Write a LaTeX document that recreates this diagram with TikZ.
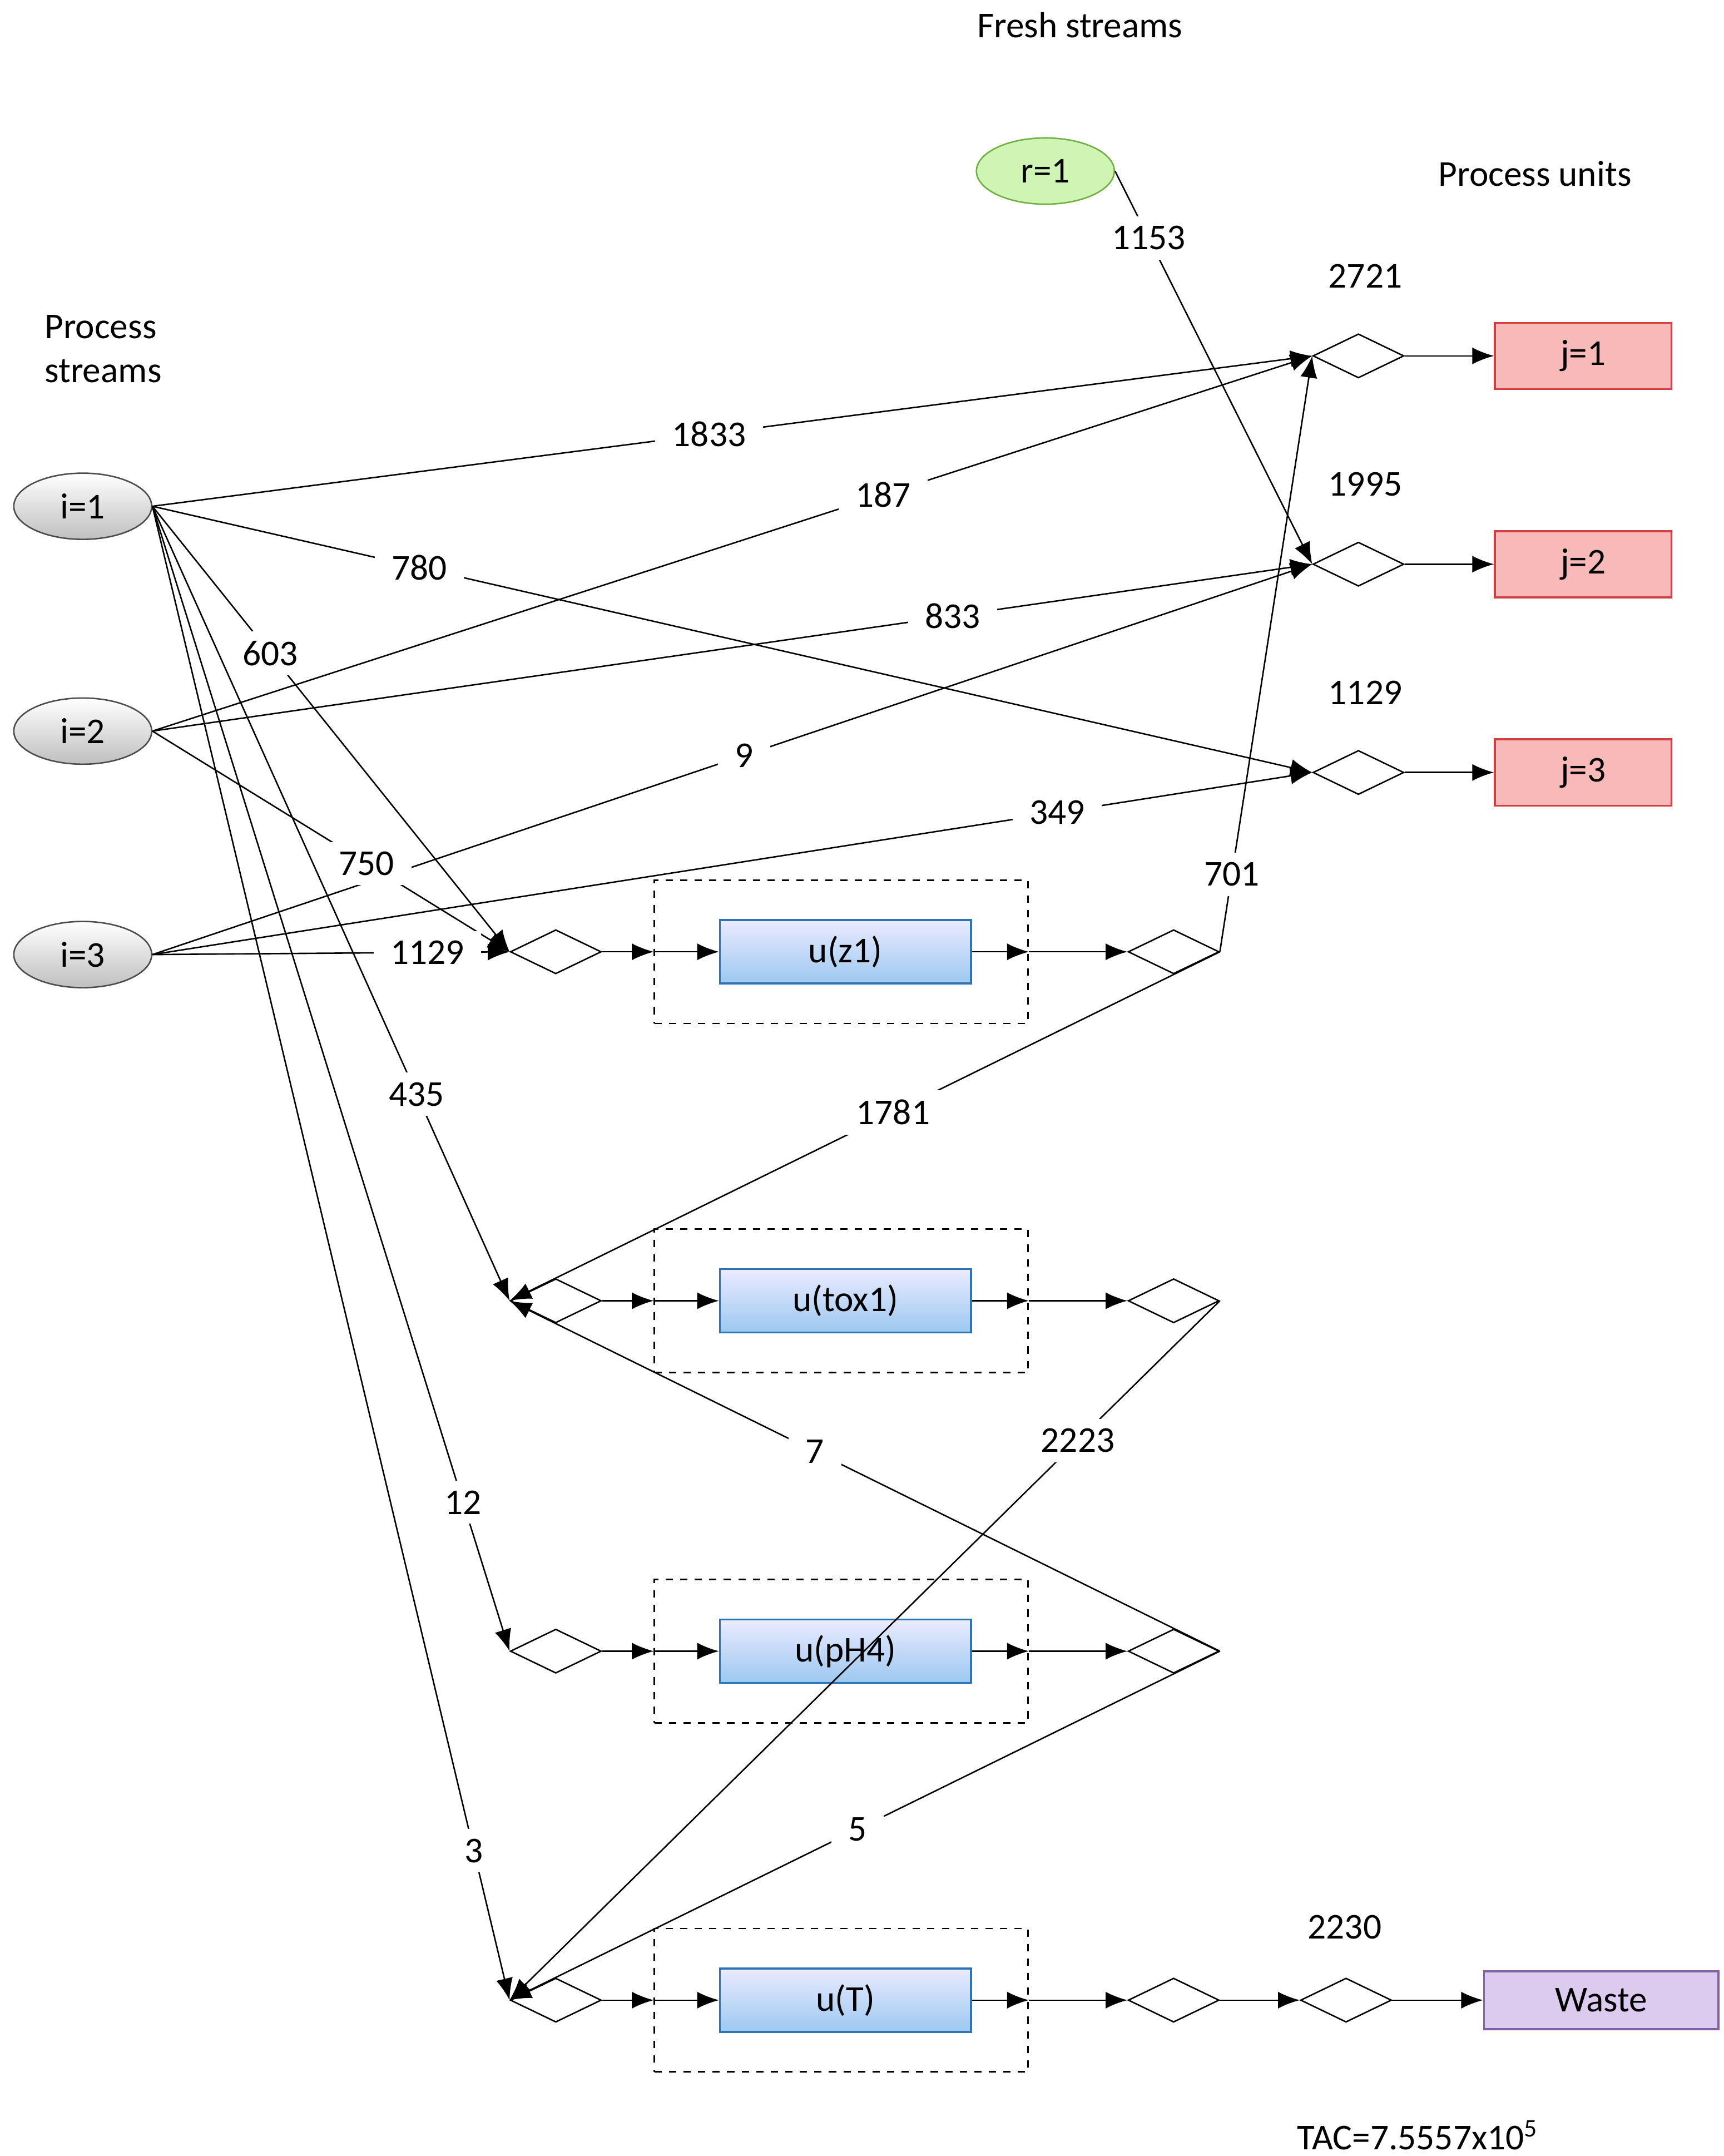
\documentclass[tikz,border=0pt]{standalone}
\usepackage{fontspec}
\setmainfont{Carlito}
\usetikzlibrary{arrows.meta,shapes.geometric}
\definecolor{unitblue}{HTML}{9CC8F0}
\definecolor{unitedge}{HTML}{2E75B6}
\definecolor{pinkfill}{HTML}{F8B9B9}
\definecolor{pinkedge}{HTML}{D04040}
\definecolor{wastefill}{HTML}{DCCBEF}
\definecolor{wasteedge}{HTML}{8060A8}
\definecolor{freshfill}{HTML}{CFF5B5}
\definecolor{freshedge}{HTML}{70B040}
\tikzset{
  stream/.style={ellipse, draw=black!70, top color=white, bottom color=black!25,
    minimum width=2cm, minimum height=0.96cm, inner sep=0pt},
  fresh/.style={ellipse, draw=freshedge, fill=freshfill,
    minimum width=2cm, minimum height=0.96cm, inner sep=0pt},
  sink/.style={rectangle, draw=pinkedge, fill=pinkfill, thick,
    minimum width=2.56cm, minimum height=0.96cm},
  waste/.style={rectangle, draw=wasteedge, fill=wastefill, thick,
    minimum width=3.4cm, minimum height=0.84cm},
  unit/.style={rectangle, draw=unitedge, thick, top color=blue!8, bottom color=unitblue,
    minimum width=3.64cm, minimum height=0.92cm},
  frame/.style={rectangle, draw, dashed, minimum width=5.42cm, minimum height=2.08cm},
  mix/.style={diamond, draw, inner sep=0pt, minimum width=1.32cm, minimum height=0.64cm},
  lab/.style={fill=white, inner xsep=7pt, inner ysep=4pt},
  flow/.style={-{Latex[length=9pt,width=7pt]}},
}
\begin{document}
\begin{tikzpicture}[x=0.02cm,y=-0.02cm,font=\fontsize{15}{18}\selectfont,semithick]
  \useasboundingbox (0,0) rectangle (1250,1563);

  % headings
  \node (hf) at (783,18) {Fresh streams};
  \node (hu) at (1113,126) {Process units};
  \node[align=left,anchor=west] (hp) at (26,253) {Process\\streams};
  \node (tac) at (1028,1548) {TAC=7.5557x10\textsuperscript{5}};

  % sources
  \node[stream] (i1) at (60,367) {i=1};
  \node[stream] (i2) at (60,530) {i=2};
  \node[stream] (i3) at (60,692) {i=3};
  \node[fresh]  (r1) at (758,124) {r=1};

  % sinks with their mixers
  \foreach \j/\y/\f in {1/258/2721, 2/409/1995, 3/560/1129} {
    \node[sink] (j\j) at (1148,\y) {j=\j};
    \node[mix]  (mj\j) at (985,\y) {};
    \node (fj\j) at (990,\y-58) {\f};
    \draw[flow] (mj\j.east) -- (j\j.west);
  }

  % regeneration units
  \foreach \n/\t/\y in {z/z1/690, tox/tox1/943, ph/pH4/1197, T/T/1450} {
    \node[frame] (b\n) at (610,\y) {};
    \node[unit]  (u\n) at (613,\y) {u(\t)};
    \node[mix]   (m\n) at (403,\y) {};
    \node[mix]   (s\n) at (851,\y) {};
    \draw[flow] (m\n.east) -- (b\n.west);
    \draw[flow] (b\n.west) -- (u\n.west);
    \draw[flow] (u\n.east) -- (b\n.east);
    \draw[flow] (b\n.east) -- (s\n.west);
  }

  % waste
  \node[mix]   (mw) at (976,1450) {};
  \node[waste] (w)  at (1161,1450) {Waste};
  \node (fw) at (975,1397) {2230};
  \draw[flow] (sT.east) -- (mw.west);
  \draw[flow] (mw.east) -- (w.west);

  % process stream connections
  \draw[flow] (i1.east) -- node[lab,pos=0.48] {1833} (mj1.west);
  \draw[flow] (i2.east) -- node[lab,pos=0.63] {187}  (mj1.west);
  \draw[flow] (i1.east) -- node[lab,pos=0.23] {780}  (mj3.west);
  \draw[flow] (i2.east) -- node[lab,pos=0.69] {833}  (mj2.west);
  \draw[flow] (i3.east) -- node[lab,pos=0.51] {9}    (mj2.west);
  \draw[flow] (i3.east) -- node[lab,pos=0.78] {349}  (mj3.west);
  \draw[flow] (i1.east) -- node[lab,pos=0.33] {603}  (mz.west);
  \draw[flow] (i2.east) -- node[lab,pos=0.60] {750}  (mz.west);
  \draw[flow] (i3.east) -- node[lab,pos=0.77] {1129} (mz.west);
  \draw[flow] (i1.east) -- node[lab,pos=0.74] {435}  (mtox.west);
  \draw[flow] (i1.east) -- node[lab,pos=0.87] {12}   (mph.west);
  \draw[flow] (i1.east) -- node[lab,pos=0.90] {3}    (mT.west);

  % fresh stream
  \draw[flow] (r1.east) -- node[lab,pos=0.17] {1153} (mj2.west);

  % unit outlets
  \draw[flow] (sz.east)   -- node[lab,pos=0.13] {701}  (mj1.west);
  \draw[flow] (sz.east)   -- node[lab,pos=0.46] {1781} (mtox.west);
  \draw[flow] (stox.east) -- node[lab,pos=0.20] {2223} (mT.west);
  \draw[flow] (sph.east)  -- node[lab,pos=0.57] {7}    (mtox.west);
  \draw[flow] (sph.east)  -- node[lab,pos=0.51] {5}    (mT.west);
\end{tikzpicture}
\end{document}
